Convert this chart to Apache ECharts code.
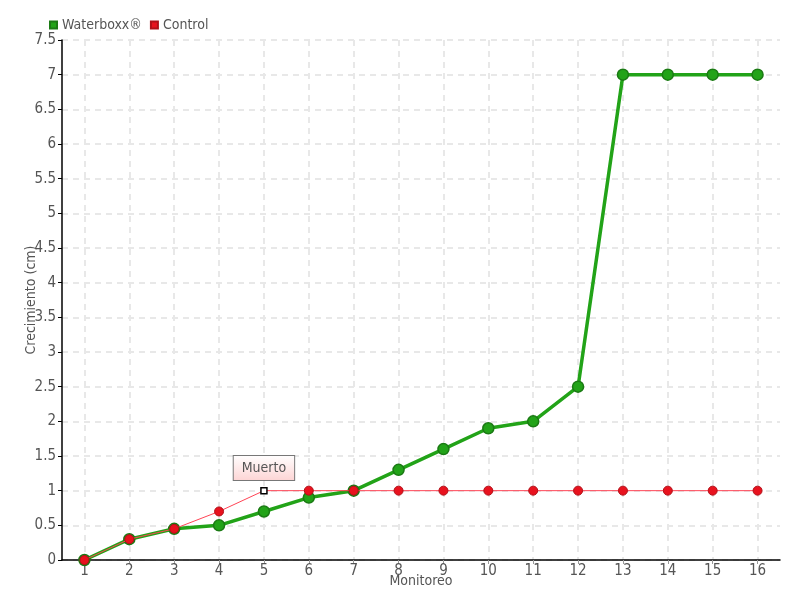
<!DOCTYPE html>
<html><head><meta charset="utf-8">
<script src="https://cdn.jsdelivr.net/npm/echarts@6/dist/echarts.min.js"></script>
<style>html,body{margin:0;padding:0;background:#fff}#c{width:800px;height:600px}</style>
</head><body><div id="c"></div>
<script>
const categories = ['1','2','3','4','5','6','7','8','9','10','11','12','13','14','15','16'];
const waterboxx = [0,0.3,0.45,0.5,0.7,0.9,1,1.3,1.6,1.9,2,2.5,7,7,7,7];
const control = [0,0.3,0.45,0.7,1,1,1,1,1,1,1,1,1,1,1,1];
const deadIndex = 4;
const deadLabel = 'Muerto';

const font = '"Liberation Sans Narrow", "DejaVu Sans Condensed", sans-serif';
const chart = echarts.init(document.getElementById('c'));
const controlData = control.map((v,i)=> i===deadIndex ? {
  value: v, symbol:'rect', symbolSize:6,
  itemStyle:{color:'#fff', borderColor:'#000', borderWidth:1.5},
  label:{show:true, position:'top', distance:7, formatter:deadLabel, color:'#555', fontSize:14,
    fontFamily:font, backgroundColor:{type:'linear',x:0,y:0,x2:0,y2:1,colorStops:[{offset:0,color:'#fff'},{offset:1,color:'#fdd4d4'}]},
    borderColor:'#777', borderWidth:1, padding:[5,8,5,8]}
} : v);
chart.setOption({
  animation:false,
  textStyle:{fontFamily:font},
  legend:{left:44, top:13, itemWidth:7, itemHeight:7, itemGap:8,
    textStyle:{color:'#555', fontSize:14, fontFamily:font},
    data:[{name:'Waterboxx®', icon:'rect'},{name:'Control', icon:'rect'}]},
  grid:{left:62, right:20, top:40, bottom:40, outerBoundsMode:'none', containLabel:false},
  xAxis:{type:'category', data:categories, boundaryGap:true,
    name:'Monitoreo', nameLocation:'middle', nameGap:14, nameMoveOverlap:false,
    nameTextStyle:{color:'#555', fontSize:14, fontFamily:font},
    axisLine:{lineStyle:{color:'#000', width:1.5}},
    axisTick:{show:true, alignWithLabel:true, interval:0, length:4, lineStyle:{color:'#999'}},
    axisLabel:{color:'#555', fontSize:15, margin:4, fontFamily:font, interval:0},
    splitLine:{show:true, interval:0, alignWithLabel:true, lineStyle:{color:'#e8e8e8', width:2, type:[6,5]}}},
  yAxis:{type:'value', min:0, max:7.5, interval:0.5,
    name:'Crecimiento (cm)', nameLocation:'middle', nameGap:24, nameMoveOverlap:false,
    nameTextStyle:{color:'#555', fontSize:14, fontFamily:font},
    axisLine:{show:true, lineStyle:{color:'#000', width:1.5}},
    axisTick:{show:true, length:4, lineStyle:{color:'#000'}},
    axisLabel:{color:'#555', fontSize:15, margin:6, fontFamily:font},
    splitLine:{lineStyle:{color:'#e8e8e8', width:2, type:[6,5]}}},
  series:[
    {name:'Waterboxx®', type:'line', data:waterboxx, symbol:'circle', symbolSize:11,
      lineStyle:{color:'#22a318', width:3.5},
      itemStyle:{color:'#22a318', borderColor:'#1b7a14', borderWidth:1.5}, z:2},
    {name:'Control', type:'line', data:controlData, symbol:'circle', symbolSize:9,
      lineStyle:{color:'#ff4455', width:1},
      itemStyle:{color:'#e8121e', borderColor:'#b01018', borderWidth:1}, z:3}
  ]
});
</script></body></html>
